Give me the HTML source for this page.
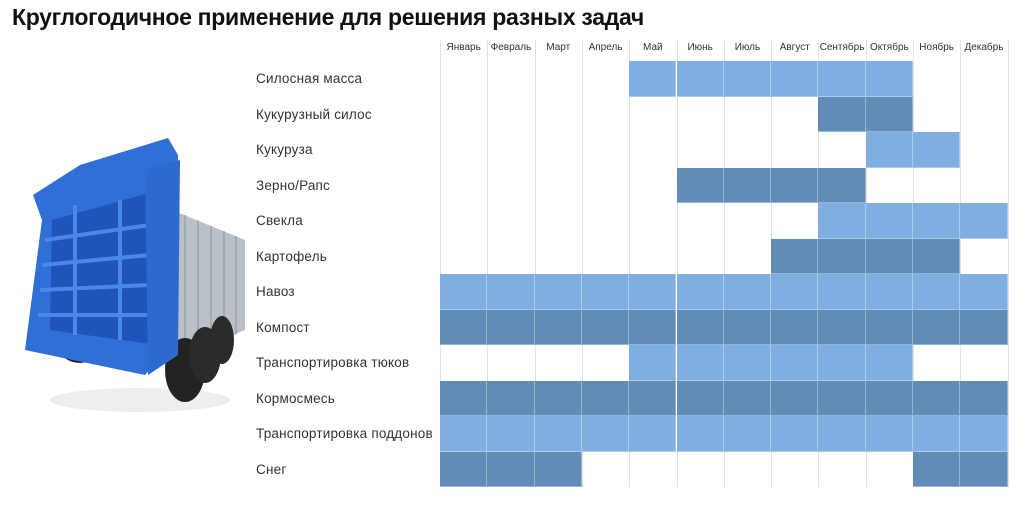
<!DOCTYPE html>
<html><head><meta charset="utf-8"><style>
body{margin:0;width:1024px;height:505px;background:#fff;position:relative;overflow:hidden;font-family:"Liberation Sans","DejaVu Sans",sans-serif}
.t{position:absolute;left:12px;top:4px;font-size:23px;font-weight:bold;color:#111;letter-spacing:-0.3px}
.l{position:absolute;left:256px;font-size:13.5px;letter-spacing:0.2px;color:#333;line-height:35.5px;height:35.5px}
.m{position:absolute;top:42px;font-size:10px;color:#333;width:47.3px;text-align:center}
.v{position:absolute;top:40px;height:447px;width:1px;background:#e2e2e2}
.c{position:absolute;height:35.5px;width:47.3px;box-sizing:border-box;border-right:1px solid rgba(255,255,255,.35);border-bottom:1px solid rgba(255,255,255,.35)}
.a{background:#7fafe0}.b{background:#628cb8}
</style></head><body>
<div class="t">Круглогодичное применение для решения разных задач</div>
<svg style="position:absolute;left:0;top:110px" width="260" height="310" viewBox="0 110 260 310">
<ellipse cx="140" cy="400" rx="90" ry="12" fill="#eee"/>
<polygon points="172,210 245,240 245,330 172,360" fill="#b9c0c6"/>
<g stroke="#8d959c" stroke-width="1"><line x1="185" y1="215" x2="185" y2="355"/><line x1="198" y1="220" x2="198" y2="350"/><line x1="211" y1="226" x2="211" y2="345"/><line x1="224" y1="231" x2="224" y2="340"/><line x1="236" y1="236" x2="236" y2="335"/></g>
<ellipse cx="185" cy="370" rx="20" ry="32" fill="#222"/><ellipse cx="205" cy="355" rx="16" ry="28" fill="#2a2a2a"/><ellipse cx="222" cy="340" rx="12" ry="24" fill="#2a2a2a"/>
<ellipse cx="80" cy="345" rx="22" ry="18" fill="#222"/>
<polygon points="25,350 42,220 33,195 80,165 168,138 178,155 176,340 145,375 25,350" fill="#2f6fd6"/>
<polygon points="52,220 160,190 158,345 50,330" fill="#1f55b8"/>
<g stroke="#4a88e8" stroke-width="4"><line x1="45" y1="240" x2="150" y2="225"/><line x1="42" y1="265" x2="150" y2="255"/><line x1="40" y1="290" x2="150" y2="285"/><line x1="38" y1="315" x2="150" y2="315"/><line x1="75" y1="205" x2="75" y2="335"/><line x1="120" y1="200" x2="120" y2="340"/></g>
<polygon points="145,170 180,160 178,355 148,375" fill="#2d6ad0"/>
</svg>
<div class="l" style="top:61px">Силосная масса</div>
<div class="l" style="top:96.5px">Кукурузный силос</div>
<div class="l" style="top:132px">Кукуруза</div>
<div class="l" style="top:167.5px">Зерно/Рапс</div>
<div class="l" style="top:203px">Свекла</div>
<div class="l" style="top:238.5px">Картофель</div>
<div class="l" style="top:274px">Навоз</div>
<div class="l" style="top:309.5px">Компост</div>
<div class="l" style="top:345px">Транспортировка тюков</div>
<div class="l" style="top:380.5px">Кормосмесь</div>
<div class="l" style="top:416px">Транспортировка поддонов</div>
<div class="l" style="top:451.5px">Снег</div>
<div id="g"></div>
<script>
var M=["Январь","Февраль","Март","Апрель","Май","Июнь","Июль","Август","Сентябрь","Октябрь","Ноябрь","Декабрь"];
var R=["....aaaaaa..","........bb..",".........aa.",".....bbbb...","........aaaa",".......bbbb.","aaaaaaaaaaaa","bbbbbbbbbbbb","....aaaaaa..","bbbbbbbbbbbb","aaaaaaaaaaaa","bbb.......bb"];
var h="";for(var i=0;i<=12;i++)h+='<div class="v" style="left:'+(440+i*47.3)+'px"></div>';
for(i=0;i<12;i++)h+='<div class="m" style="left:'+(440+i*47.3)+'px">'+M[i]+'</div>';
for(var r=0;r<12;r++)for(i=0;i<12;i++){var k=R[r][i];if(k!='.')h+='<div class="c '+k+'" style="left:'+(440+i*47.3)+'px;top:'+(61+r*35.5)+'px"></div>';}
document.getElementById("g").innerHTML=h;
</script>
</body></html>
